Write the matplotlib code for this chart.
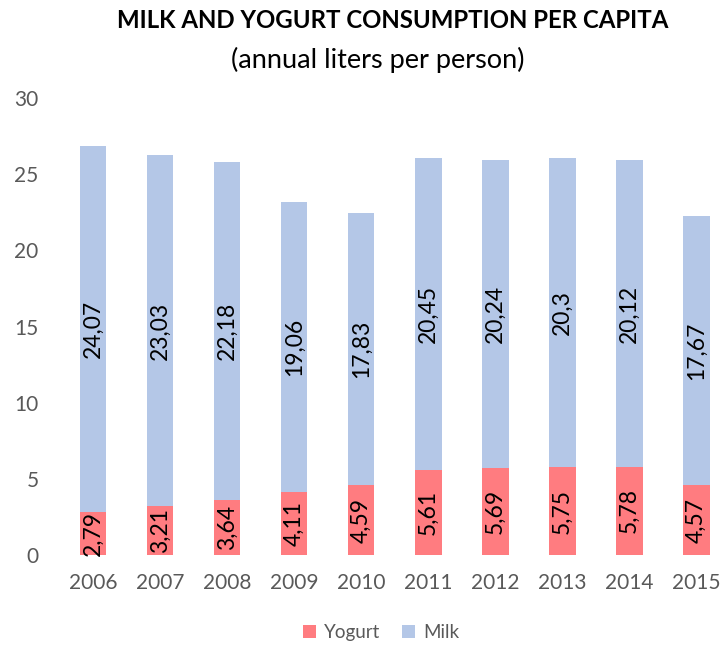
from matplotlib import pyplot as plt
import numpy as np

plt.rcParams['font.family'] = ['Lato', 'DejaVu Sans']

years = ["2006", "2007", "2008", "2009", "2010", "2011", "2012", "2013", "2014", "2015"]
yogurt = [2.79, 3.21, 3.64, 4.11, 4.59, 5.61, 5.69, 5.75, 5.78, 4.57]
milk = [24.07, 23.03, 22.18, 19.06, 17.83, 20.45, 20.24, 20.3, 20.12, 17.67]


def fmt(v):
    return ("%g" % v).replace(".", ",")


def plot_chart():
    fig = plt.figure(figsize=(7.23, 6.47), dpi=100)
    ax = fig.add_axes([0.0823, 0.1422, 1 - 0.0823, 0.7063])

    x = np.arange(len(years))
    w = 0.4
    yog = np.array(yogurt)
    mil = np.array(milk)
    ax.bar(x, yog, w, color="#FF7C80", label="Yogurt")
    ax.bar(x, mil, w, bottom=yog, color="#B4C7E7", label="Milk")

    for i in range(len(years)):
        ax.text(x[i], yog[i] / 2, fmt(yog[i]), rotation=90, ha="center", va="center",
                fontsize=16.5, color="black", clip_on=False)
        ax.text(x[i], yog[i] + mil[i] / 2, fmt(mil[i]), rotation=90, ha="center", va="center",
                fontsize=16.5, color="black")

    ax.set_xlim(-0.5, 9.4)
    ax.set_ylim(0, 30)
    ax.set_yticks([0, 5, 10, 15, 20, 25, 30])
    ax.set_xticks(x)
    ax.set_xticklabels(years)
    ax.tick_params(axis="both", length=0, labelsize=15, colors="#595959")
    ax.tick_params(axis="x", pad=13)
    ax.tick_params(axis="y", pad=15)
    for sp in ax.spines.values():
        sp.set_visible(False)

    fig.text(0.5436, 0.968, "MILK AND YOGURT CONSUMPTION PER CAPITA", ha="center", va="center",
             fontsize=17.3, fontweight="bold", color="black")
    fig.text(0.522, 0.908, "(annual liters per person)", ha="center", va="center",
             fontsize=19.5, color="black")

    handles, labels = ax.get_legend_handles_labels()
    fig.legend(handles, labels, loc="center", bbox_to_anchor=(0.527, 0.022), ncol=2, frameon=False,
               fontsize=13.5, handlelength=0.7, handleheight=0.7, columnspacing=1.2, handletextpad=0.4,
               labelcolor="#595959")

    plt.savefig("out.png", dpi=100)
    plt.close()


if __name__ == "__main__":
    plot_chart()
